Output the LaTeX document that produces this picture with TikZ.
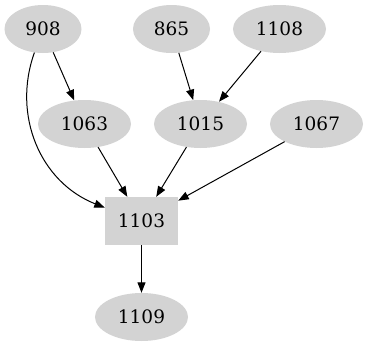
\documentclass[tikz,border=0pt]{standalone}
\usepackage{fontspec}
\setmainfont{DejaVu Serif}
\usepackage{tikz}
\usetikzlibrary{arrows.meta,shapes.geometric,positioning}
\definecolor{nodegray}{HTML}{D3D3D3}

\begin{document}
\begin{tikzpicture}[x=1bp,y=-1bp,
    >={Triangle[length=10.5bp,width=8bp]},
    num/.style={ellipse,fill=nodegray,inner sep=0pt,minimum width=93bp,minimum height=48bp,font=\fontsize{18.5bp}{20bp}\selectfont},
    short/.style={num,minimum width=77bp},
    sq/.style={rectangle,fill=nodegray,inner sep=0pt,minimum width=73bp,minimum height=48bp,font=\fontsize{18.5bp}{20bp}\selectfont},
    edge/.style={->,line width=1bp}]
  \useasboundingbox (0,0) rectangle (368,347);
  \node[short] (n908) at (43,29) {908};
  \node[short] (n865) at (171.5,29) {865};
  \node[num] (n1108) at (279.5,29) {1108};
  \node[num] (n1063) at (84.5,124) {1063};
  \node[num] (n1015) at (200.5,124) {1015};
  \node[num] (n1067) at (316.5,124) {1067};
  \node[sq] (n1103) at (141.5,221) {1103};
  \node[num] (n1109) at (141.5,317) {1109};
  \draw[edge] (n908) -- (n1063);
  \draw[edge] (n908.250) .. controls (12,115) and (40,182) .. (n1103.160);
  \draw[edge] (n865) -- (n1015);
  \draw[edge] (n1108) -- (n1015);
  \draw[edge] (n1063) -- (n1103);
  \draw[edge] (n1015) -- (n1103);
  \draw[edge] (n1067) -- (n1103);
  \draw[edge] (n1103) -- (n1109);
\end{tikzpicture}
\end{document}
